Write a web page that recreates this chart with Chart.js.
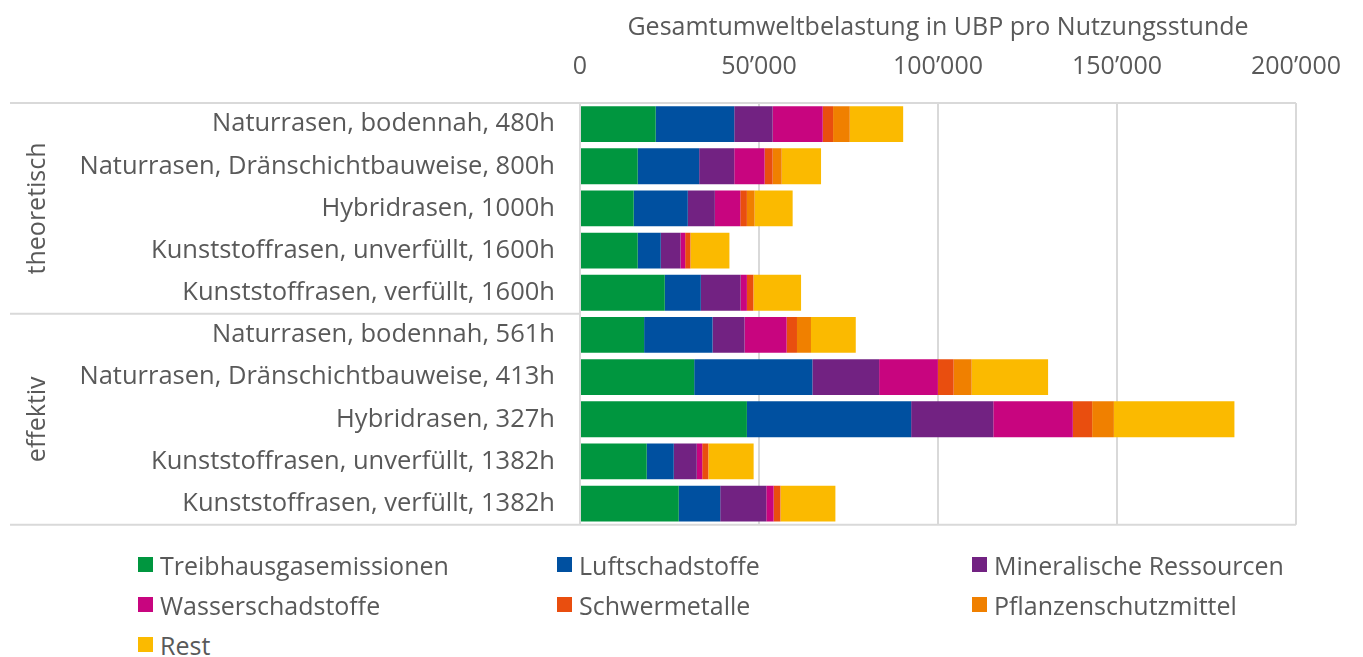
<!DOCTYPE html>
<html>
<head>
<meta charset="utf-8">
<script src="https://cdn.jsdelivr.net/npm/chart.js@4.4.0/dist/chart.umd.min.js"></script>
<style>
  body { margin: 0; background: #fff; font-family: "Open Sans", sans-serif; }
  #wrap { position: relative; width: 1363px; height: 657px; }
  #chartBox { position: absolute; left: 0; top: 0; width: 1363px; height: 565px; }
  #legend { position: absolute; left: 0; top: 545px; width: 1363px; color: #595959; font-size: 25px; }
  .item { position: absolute; height: 40px; line-height: 40px; white-space: nowrap; }
  .sw { position: absolute; top: 12px; width: 15px; height: 15px; }
  .lbl { position: absolute; left: 22px; top: 0; }
</style>
</head>
<body>
<div id="wrap">
  <div id="chartBox"><canvas id="myChart"></canvas></div>
  <div id="legend"></div>
</div>
<script>
const categories = [
  'Naturrasen, bodennah, 480h',
  'Naturrasen, Dränschichtbauweise, 800h',
  'Hybridrasen, 1000h',
  'Kunststoffrasen, unverfüllt, 1600h',
  'Kunststoffrasen, verfüllt, 1600h',
  'Naturrasen, bodennah, 561h',
  'Naturrasen, Dränschichtbauweise, 413h',
  'Hybridrasen, 327h',
  'Kunststoffrasen, unverfüllt, 1382h',
  'Kunststoffrasen, verfüllt, 1382h'
];
const groups = ['theoretisch', 'effektiv'];
const groupSizes = [5, 5];

const seriesNames = ['Treibhausgasemissionen', 'Luftschadstoffe', 'Mineralische Ressourcen',
  'Wasserschadstoffe', 'Schwermetalle', 'Pflanzenschutzmittel', 'Rest'];
const seriesColors = ['#00963f', '#0050a0', '#722282', '#c8057f', '#e94e0f', '#f08000', '#fbba00'];

const treibhaus   = [21150, 16120, 15000, 16120, 23680, 17910, 31900, 46620, 18640, 27590];
const luft        = [21940, 17170, 15110,  6440, 10070, 19110, 33010, 45880,  7550, 11580];
const mineral     = [10720,  9800,  7560,  5510, 11110,  8950, 18640, 22950,  6430, 12870];
const wasser      = [13990,  8480,  7100,  1310,  1760, 11750, 16420, 22210,  1520,  2050];
const schwer      = [ 2890,  2240,  1850,  1400,  1780,  2890,  4400,  5400,  1670,  1870];
const pflanzen    = [ 4660,  2520,  2150,   150,   100,  3910,  5030,  6070,   100,   100];
const rest        = [14920, 11000, 10630, 10810, 13250, 12510, 21350, 33670, 12590, 15280];
const seriesValues = [treibhaus, luft, mineral, wasser, schwer, pflanzen, rest];

const xTicks = [0, 50000, 100000, 150000, 200000];
const axisTitle = 'Gesamtumweltbelastung in UBP pro Nutzungsstunde';

const textColor = '#595959';
const lineColor = '#d9d9d9';
const fontFamily = '"Open Sans", sans-serif';

function formatNumber(v) {
  return String(v).replace(/\B(?=(\d{3})+(?!\d))/g, '\u2019');
}

// group labels and separator lines on the left
const groupPlugin = {
  id: 'groupPlugin',
  afterDraw(chart) {
    const ctx = chart.ctx;
    const area = chart.chartArea;
    const y = chart.scales.y;
    ctx.save();
    ctx.strokeStyle = lineColor;
    ctx.lineWidth = 2;
    let start = 0;
    const bounds = [area.top];
    groupSizes.forEach((size, gi) => {
      const end = start + size - 1;
      const bottom = end === categories.length - 1 ? area.bottom : (y.getPixelForValue(end) + y.getPixelForValue(end + 1)) / 2;
      bounds.push(bottom);
      const top = bounds[gi];
      ctx.save();
      ctx.translate(38, (top + bottom) / 2);
      ctx.rotate(-Math.PI / 2);
      ctx.fillStyle = textColor;
      ctx.font = '25px ' + fontFamily;
      ctx.textAlign = 'center';
      ctx.textBaseline = 'middle';
      ctx.fillText(groups[gi], 0, 0);
      ctx.restore();
      start += size;
    });
    bounds.forEach((b, i) => {
      ctx.beginPath();
      ctx.moveTo(10, b);
      ctx.lineTo(i === 0 || i === bounds.length - 1 ? area.right : area.left, b);
      ctx.stroke();
    });
    ctx.restore();
  }
};

const ctx = document.getElementById('myChart').getContext('2d');
const myChart = new Chart(ctx, {
  type: 'bar',
  data: {
    labels: categories,
    datasets: seriesNames.map((name, i) => ({
      label: name,
      data: seriesValues[i],
      backgroundColor: seriesColors[i],
      borderWidth: 0,
      barPercentage: 1,
      categoryPercentage: 0.85
    }))
  },
  options: {
    indexAxis: 'y',
    animation: false,
    maintainAspectRatio: false,
    responsive: true,
    layout: { padding: { left: 0, right: 67, top: 0, bottom: 17 } },
    plugins: {
      legend: { display: false },
      tooltip: { enabled: false }
    },
    scales: {
      x: {
        stacked: true,
        position: 'top',
        min: 0,
        max: 200000,
        afterFit(scale) { scale.height = 103; },
        afterBuildTicks(scale) { scale.ticks = xTicks.map(v => ({ value: v })); },
        title: {
          display: true,
          text: axisTitle,
          color: textColor,
          font: { family: fontFamily, size: 25 },
          padding: { top: 13, bottom: 0 }
        },
        grid: { color: lineColor, lineWidth: 2, drawTicks: false },
        border: { display: false },
        ticks: {
          color: textColor,
          font: { family: fontFamily, size: 25 },
          padding: 21,
          maxRotation: 0,
          callback: (v) => formatNumber(v)
        }
      },
      y: {
        stacked: true,
        afterFit(scale) { scale.width = 580; },
        grid: { display: false, drawTicks: false },
        border: { display: true, color: lineColor, width: 2 },
        ticks: {
          color: textColor,
          font: { family: fontFamily, size: 25.5 },
          padding: 25,
          autoSkip: false
        }
      }
    }
  },
  plugins: [groupPlugin]
});

// legend in three columns, like the original
const legendCols = [138, 557, 972];
const legend = document.getElementById('legend');
seriesNames.forEach((name, i) => {
  const item = document.createElement('div');
  item.className = 'item';
  item.style.left = legendCols[i % 3] + 'px';
  item.style.top = (Math.floor(i / 3) * 40) + 'px';
  item.innerHTML = '<span class="sw" style="background:' + seriesColors[i] + '"></span><span class="lbl">' + name + '</span>';
  legend.appendChild(item);
});
</script>
</body>
</html>
